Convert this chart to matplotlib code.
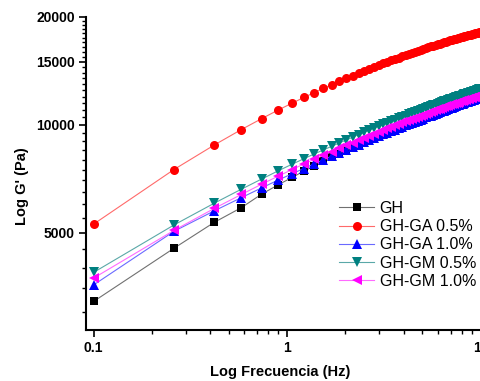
import numpy as np
import matplotlib
matplotlib.use("Agg")
import matplotlib.pyplot as plt
from matplotlib.ticker import FixedLocator, FixedFormatter, NullFormatter

plt.rcParams['font.family'] = ['Liberation Sans', 'DejaVu Sans']

# frequency sweep (Hz)
freq = [0.10, 0.26, 0.42, 0.58, 0.74, 0.90, 1.06, 1.22, 1.38, 1.54, 1.70,
        1.86, 2.02, 2.18, 2.34, 2.50, 2.65, 2.81, 2.97, 3.13, 3.29, 3.45,
        3.61, 3.77, 3.93, 4.09, 4.25, 4.41, 4.57, 4.73, 4.89, 5.05, 5.21,
        5.37, 5.53, 5.69, 5.85, 6.01, 6.17, 6.33, 6.49, 6.65, 6.81, 6.97,
        7.13, 7.29, 7.45, 7.61, 7.77, 7.93, 8.08, 8.24, 8.40, 8.56, 8.72,
        8.88, 9.04, 9.20, 9.36, 9.52, 9.68, 9.84, 10.00]

# G' (Pa)
gh = [3220, 4530, 5350, 5880, 6420, 6810, 7140, 7430, 7680, 7910, 8120,
      8310, 8490, 8650, 8800, 8940, 9080, 9200, 9320, 9430, 9540, 9640,
      9740, 9830, 9920, 10000, 10090, 10160, 10240, 10310, 10380, 10450, 10520,
      10580, 10640, 10700, 10760, 10820, 10870, 10920, 10980, 11030, 11080, 11120,
      11170, 11220, 11260, 11300, 11350, 11390, 11430, 11470, 11510, 11540, 11580,
      11620, 11650, 11690, 11720, 11750, 11790, 11820, 11850]

gh_ga05 = [5290, 7510, 8790, 9710, 10420, 11010, 11500, 11930, 12310, 12650, 12950,
           13240, 13490, 13730, 13950, 14150, 14340, 14520, 14690, 14850, 15000, 15150,
           15280, 15410, 15540, 15660, 15770, 15880, 15990, 16090, 16190, 16280, 16370,
           16460, 16550, 16630, 16710, 16790, 16860, 16930, 17000, 17070, 17140, 17200,
           17270, 17330, 17390, 17450, 17500, 17560, 17610, 17670, 17720, 17770, 17820,
           17870, 17920, 17960, 18010, 18050, 18100, 18140, 18180]

gh_ga10 = [3580, 5050, 5760, 6270, 6680, 7020, 7310, 7560, 7790, 8000, 8180,
           8360, 8520, 8670, 8810, 8950, 9070, 9190, 9300, 9410, 9510, 9610,
           9710, 9800, 9890, 9970, 10050, 10130, 10210, 10280, 10350, 10420, 10490,
           10560, 10620, 10680, 10740, 10800, 10860, 10920, 10970, 11030, 11080, 11130,
           11180, 11230, 11280, 11330, 11380, 11420, 11470, 11510, 11560, 11600, 11640,
           11680, 11720, 11760, 11800, 11840, 11880, 11920, 11950]

gh_gm05 = [3880, 5260, 6050, 6620, 7070, 7450, 7770, 8050, 8300, 8520, 8720,
           8910, 9080, 9240, 9400, 9540, 9670, 9790, 9910, 10030, 10140, 10240,
           10340, 10430, 10520, 10610, 10700, 10780, 10860, 10930, 11010, 11080, 11150,
           11210, 11280, 11340, 11400, 11460, 11520, 11580, 11630, 11690, 11740, 11790,
           11840, 11890, 11940, 11990, 12040, 12080, 12130, 12170, 12210, 12250, 12300,
           12340, 12380, 12420, 12450, 12490, 12530, 12560, 12600]

gh_gm10 = [3740, 5080, 5850, 6400, 6840, 7200, 7510, 7780, 8020, 8230, 8430,
           8610, 8770, 8930, 9070, 9210, 9340, 9460, 9570, 9680, 9780, 9880,
           9980, 10070, 10160, 10240, 10320, 10400, 10470, 10540, 10620, 10680, 10750,
           10810, 10880, 10940, 11000, 11050, 11110, 11160, 11220, 11270, 11320, 11370,
           11410, 11460, 11510, 11550, 11600, 11640, 11680, 11720, 11770, 11800, 11840,
           11880, 11920, 11960, 11990, 12030, 12060, 12100, 12130]

labels = ["GH", "GH-GA 0.5%", "GH-GA 1.0%", "GH-GM 0.5%", "GH-GM 1.0%"]

y_ticks = [5000, 10000, 15000, 20000]
y_tick_labels = ["5000", "10000", "15000", "20000"]
x_ticks = [0.1, 1, 10]
x_tick_labels = ["0.1", "1", "10"]

series = [gh, gh_ga05, gh_ga10, gh_gm05, gh_gm10]
markers = ['s', 'o', '^', 'v', '<']
colors = ['#000000', '#ff0000', '#0000ff', '#008080', '#ff00ff']
line_colors = ['#707070', '#ff6a6a', '#6a6aff', '#5aa8a8', '#ff6aff']
sizes = [5.5, 6.5, 6.5, 6.5, 6.5]

fig = plt.figure(figsize=(4.8, 3.81), dpi=100)
ax = fig.add_axes([86 / 480, 51 / 381, 410 / 480, 313 / 381])

for vals, lab, m, c, lc, s in zip(series, labels, markers, colors, line_colors, sizes):
    ax.plot(freq, vals, color=lc, lw=0.8, marker=m, ms=s,
            mfc=c, mec=c, mew=0, label=lab)

ax.set_xscale('log')
ax.set_yscale('log')
ax.set_xlim(0.0913, 12)
ax.set_ylim(2680, 20000)

ax.xaxis.set_major_locator(FixedLocator(x_ticks))
ax.xaxis.set_major_formatter(FixedFormatter(x_tick_labels))
ax.xaxis.set_minor_locator(FixedLocator([0.2, 0.3, 0.4, 0.5, 0.6, 0.7, 0.8, 0.9,
                                         2, 3, 4, 5, 6, 7, 8, 9]))
ax.xaxis.set_minor_formatter(NullFormatter())

ax.yaxis.set_major_locator(FixedLocator(y_ticks))
ax.yaxis.set_major_formatter(FixedFormatter(y_tick_labels))
ax.yaxis.set_minor_locator(FixedLocator([v for v in range(3000, 20000, 500)
                                         if v not in y_ticks]))
ax.yaxis.set_minor_formatter(NullFormatter())

for side in ['top', 'right']:
    ax.spines[side].set_visible(False)
for side in ['left', 'bottom']:
    ax.spines[side].set_linewidth(1.5)

ax.tick_params(which='major', direction='out', length=5, width=1.2,
               labelsize=10, pad=3)
ax.tick_params(which='minor', direction='out', length=3, width=1)
for t in ax.get_xticklabels() + ax.get_yticklabels():
    t.set_fontweight('bold')

fig.text(280 / 480, 1 - 372 / 381, "Log Frecuencia (Hz)", ha='center',
         va='center', fontsize=10.5, fontweight='bold')
fig.text(22 / 480, 1 - 186 / 381, "Log G' (Pa)", ha='center', va='center',
         rotation=90, fontsize=10.5, fontweight='bold')

fig.legend(loc='upper left', bbox_to_anchor=(339 / 480, 1 - 201 / 381),
           frameon=False, fontsize=11.5, handlelength=2.2, handletextpad=0.35,
           labelspacing=0.2, borderpad=0, borderaxespad=0)

fig.savefig("out.png", dpi=100)
